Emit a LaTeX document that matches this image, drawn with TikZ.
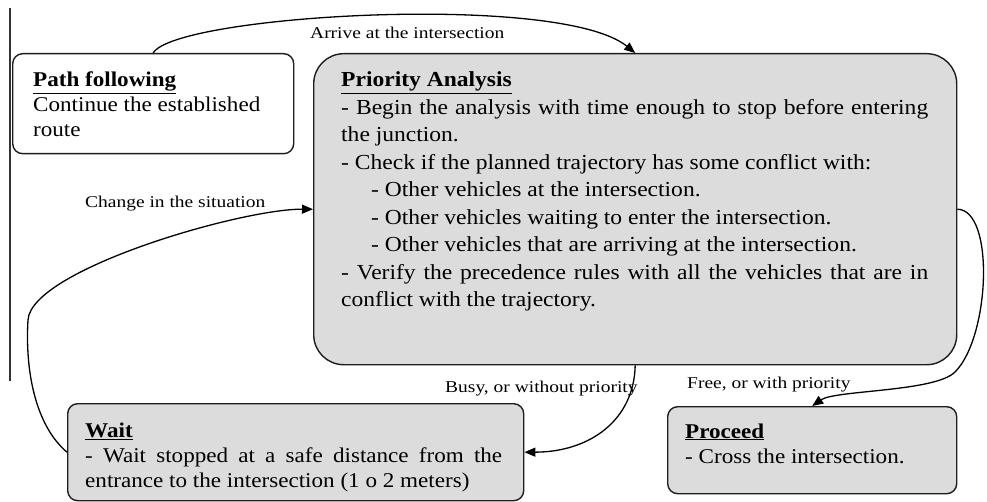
\documentclass[tikz,border=0pt]{standalone}
\usepackage{fontspec}
\setmainfont{Liberation Serif}
\newfontfamily\boxfont[FakeStretch=1.1]{Liberation Serif}
\newfontfamily\lblfont[FakeStretch=1.18]{Liberation Serif}
\usetikzlibrary{arrows.meta}
\definecolor{boxgray}{HTML}{DCDCDC}
\definecolor{edgecol}{HTML}{1E1E1E}
\tikzset{
  stbox/.style={draw=edgecol, line width=1.4pt, rounded corners=10pt, anchor=north west, inner sep=0pt},
  graybox/.style={stbox, fill=boxgray},
  txt/.style={anchor=base west, inner sep=0pt},
  lbl/.style={anchor=base west, inner sep=0pt, font=\lblfont\fontsize{16.5}{20}\selectfont},
  conn/.style={draw=black, line width=1.3pt, -{Triangle[length=11pt,width=9pt]}},
}
\newcommand\boxtext[3]{\vtop{\hsize=#1\boxfont\fontsize{#2}{25}\selectfont\parindent=0pt\noindent #3\par}}
\begin{document}
\begin{tikzpicture}[x=1pt,y=-1pt]
\useasboundingbox (0,0) rectangle (987,502);
\fill[white] (0,0) rectangle (987,502);
% page border artefact
\draw[line width=1.2pt, draw=black!80] (10,8) -- (10,381);
% boxes
\node[stbox, fill=white, minimum width=281pt, minimum height=100pt] (path) at (12,53) {};
\node[graybox, rounded corners=30pt, minimum width=643pt, minimum height=311pt] (prio) at (313,53) {};
\node[graybox, minimum width=456pt, minimum height=97pt] (wait) at (67,403) {};
\node[graybox, minimum width=289pt, minimum height=87pt] (proc) at (667,406) {};
% texts
\node[txt] (pathT) at (33,87) {\boxtext{258pt}{21}{\underline{\textbf{Path following}}\\
Continue the established\\
route}};
\node[txt] (prioT) at (341,87) {\vtop{\hsize=587pt\boxfont\fontsize{21.4}{27.5}\selectfont\parindent=0pt\noindent
\underline{\textbf{Priority Analysis}}\\
\hbox to \hsize{- Begin the analysis with time enough to stop before entering}\\
the junction.\\
- Check if the planned trajectory has some conflict with:\\
\hspace*{30pt}- Other vehicles at the intersection.\\
\hspace*{30pt}- Other vehicles waiting to enter the intersection.\\
\hspace*{30pt}- Other vehicles that are arriving at the intersection.\\
\hbox to \hsize{- Verify the precedence rules with all the vehicles that are in}\\
conflict with the trajectory.\par}};
\node[txt] (waitT) at (85,437) {\boxtext{417pt}{21}{\underline{\textbf{Wait}}\\
\hbox to \hsize{- Wait stopped at a safe distance from the}\\
entrance to the intersection (1 o 2 meters)}};
\node[txt] (procT) at (685,438) {\boxtext{250pt}{21}{\underline{\textbf{Proceed}}\\
- Cross the intersection.}};
% labels
\node[lbl] (larrive) at (310,39) {Arrive at the intersection};
\node[lbl] (lchange) at (85,208) {Change in the situation};
\node[lbl] (lbusy) at (445,392) {Busy, or without priority};
\node[lbl] (lfree) at (687,388) {Free, or with priority};
% connectors
\draw[conn] (path.north) .. controls (175,15) and (560,-8) .. (prio.north);
\draw[conn] (wait.west) .. controls (35,425) and (25,370) .. (28,320) .. controls (31,270) and (240,209) .. (prio.west);
\draw[conn] (prio.south) .. controls (634,420) and (590,452) .. (wait.east);
\draw[conn] (prio.east) .. controls (995,210) and (990,337) .. (955,372) .. controls (935,392) and (835,390) .. (proc.north);
\end{tikzpicture}
\end{document}
